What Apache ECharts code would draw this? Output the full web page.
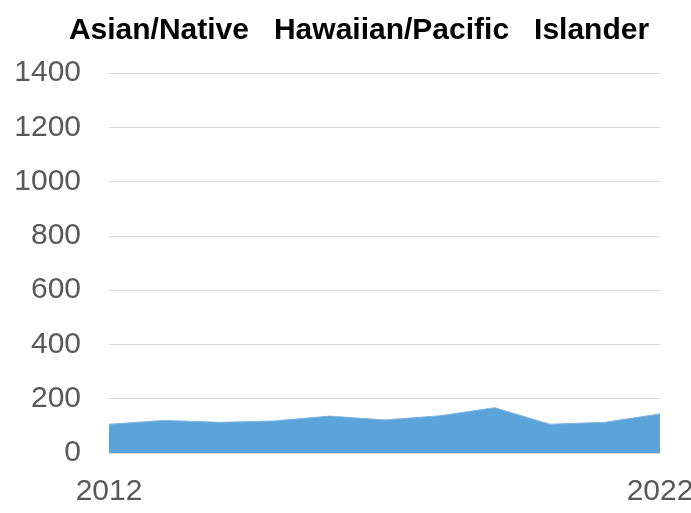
<!DOCTYPE html>
<html>
<head>
<meta charset="utf-8">
<script src="https://cdn.jsdelivr.net/npm/echarts@6/dist/echarts.min.js"></script>
<style>
  html, body { margin: 0; padding: 0; background: #ffffff; }
  #chart { width: 691px; height: 513px; }
</style>
</head>
<body>
<div id="chart"></div>
<script>
// Yearly counts, 2012-2022
const years = ['2012', '2013', '2014', '2015', '2016', '2017', '2018', '2019', '2020', '2021', '2022'];
const counts = [106, 120, 113, 118, 136, 122, 137, 167, 106, 113, 144];
const yTicks = [0, 200, 400, 600, 800, 1000, 1200, 1400];
const titleText = 'Asian/Native   Hawaiian/Pacific   Islander';

const chart = echarts.init(document.getElementById('chart'), null, { renderer: 'canvas' });
const shownLabels = [0, years.length - 1];

chart.setOption({
  backgroundColor: '#ffffff',
  animation: false,
  title: {
    text: titleText,
    left: 354,
    textAlign: 'center',
    top: 11,
    textStyle: {
      fontFamily: 'Liberation Sans, Arial, sans-serif',
      fontSize: 30,
      fontWeight: 'bold',
      color: '#000000'
    }
  },
  grid: {
    left: 109, right: 31, top: 73, bottom: 60,
    containLabel: false,
    outerBoundsMode: 'none'
  },
  xAxis: {
    type: 'category',
    data: years,
    boundaryGap: false,
    axisLine: { show: true, lineStyle: { color: '#d9d9d9', width: 1 } },
    axisTick: { show: false },
    splitLine: { show: false },
    axisLabel: {
      interval: (idx) => shownLabels.includes(idx),
      margin: 24,
      fontFamily: 'Liberation Sans, Arial, sans-serif',
      fontSize: 30,
      color: '#595959'
    }
  },
  yAxis: {
    type: 'value',
    min: yTicks[0],
    max: yTicks[yTicks.length - 1],
    interval: yTicks[1] - yTicks[0],
    axisLine: { show: false },
    axisTick: { show: false },
    splitLine: { show: true, lineStyle: { color: '#d9d9d9', width: 1 } },
    axisLabel: {
      margin: 28,
      formatter: (v) => String(v),
      fontFamily: 'Liberation Sans, Arial, sans-serif',
      fontSize: 30,
      color: '#595959'
    }
  },
  series: [{
    type: 'line',
    data: counts,
    symbol: 'none',
    lineStyle: { width: 1, color: '#7fb6e2' },
    areaStyle: { color: '#5aa4da', opacity: 1 },
    itemStyle: { color: '#5aa4da' }
  }]
});
</script>
</body>
</html>
